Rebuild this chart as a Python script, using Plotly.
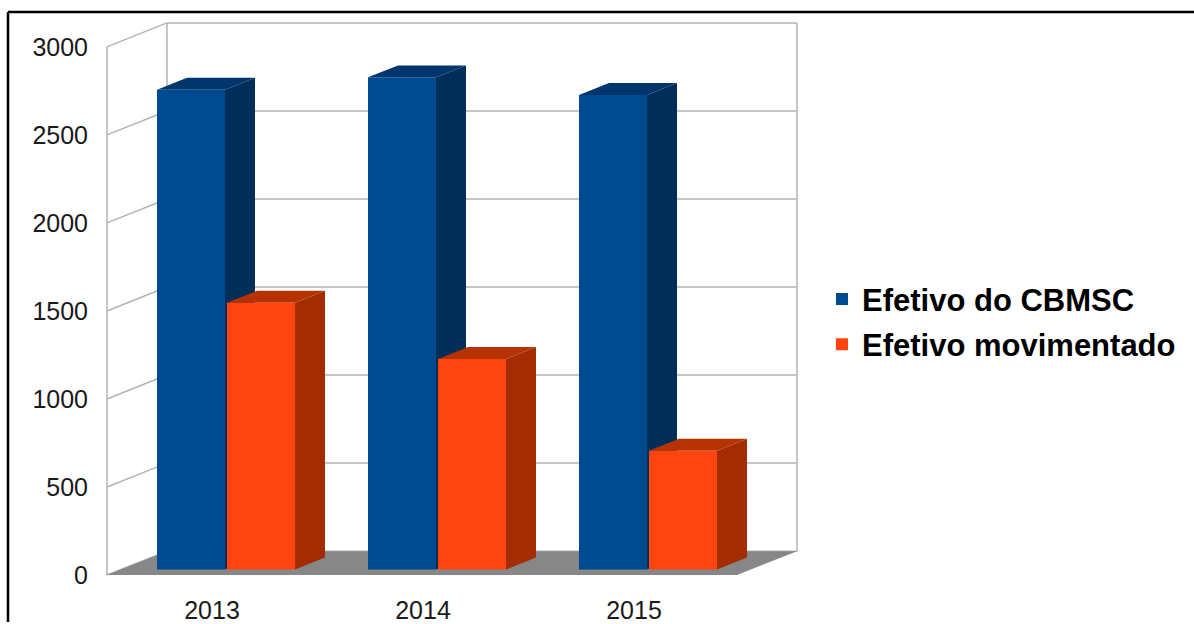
import plotly.graph_objects as go

# ---------------- data ----------------
categories = ["2013", "2014", "2015"]
efetivo_cbmsc = [2725, 2795, 2695]
efetivo_movimentado = [1515, 1195, 675]
series_names = ["Efetivo do CBMSC", "Efetivo movimentado"]
y_tick_values = [0, 500, 1000, 1500, 2000, 2500, 3000]
y_tick_labels = ["0", "500", "1000", "1500", "2000", "2500", "3000"]

# ---------------- styling / geometry (pixels) ----------------
W, H = 1194, 624
ML, MR, MT, MB = 100, 0, 0, 29
PLOT_H = H - MT - MB

CAT0_PX, CAT_STEP_PX = 212, 211       # x pixel of first category, spacing
ZERO_PY, TOP_PY = 577, 47             # y pixel of 0 and of the top tick (front plane)
YMAX = y_tick_values[-1]
S = (ZERO_PY - TOP_PY) / YMAX         # px per value unit


def ux(px):
    return px / CAT_STEP_PX


def uy(px):
    return px / S


x_lo = (ML - CAT0_PX) / CAT_STEP_PX
x_hi = (W - MR - CAT0_PX) / CAT_STEP_PX
y_lo = -(MT + PLOT_H - ZERO_PY) / S
y_hi = (ZERO_PY - MT) / S

# wall / floor box
WALL_DX, WALL_DY = ux(60), uy(24)
FL = ux(107 - CAT0_PX)
BL = FL + WALL_DX
BR = ux(797 - CAT0_PX)
FR = BR - WALL_DX

# bars
BAR_W = ux(68)
OFFSETS = [ux(-55), ux(15)]
BASE = uy(5.6)
BAR_DX, BAR_DY = ux(30), uy(12)

FRONT = ["#004a8f", "#ff440f"]
SIDE = ["#002e5a", "#a32c02"]
TOP = ["#00366b", "#b53302"]
GRID = "#b3b3b3"
FLOOR = "#878787"
FONT = "Liberation Sans, Arial, sans-serif"

shapes = []


def line(x0, y0, x1, y1):
    shapes.append(dict(type="line", xref="x", yref="y", x0=x0, y0=y0, x1=x1, y1=y1,
                       line=dict(color=GRID, width=1.5), layer="below"))


for lv in y_tick_values:
    line(BL, lv + WALL_DY, BR, lv + WALL_DY)      # back wall grid
    line(FL, lv, BL, lv + WALL_DY)                # side wall grid
line(FL, 0, FL, YMAX)
line(BL, WALL_DY, BL, YMAX + WALL_DY)
line(BR, WALL_DY, BR, YMAX + WALL_DY)


def poly(pts, color):
    d = "M " + " L ".join(f"{x},{y}" for x, y in pts) + " Z"
    shapes.append(dict(type="path", xref="x", yref="y", path=d, fillcolor=color,
                       line=dict(width=0), layer="below"))


poly([(FL, 0), (FR, 0), (BR, WALL_DY), (BL, WALL_DY)], FLOOR)

all_series = [efetivo_cbmsc, efetivo_movimentado]
for si, vals in enumerate(all_series):
    for ci, v in enumerate(vals):
        xl = ci + OFFSETS[si]
        xr = xl + BAR_W
        b = BASE
        t = BASE + v
        poly([(xr, b), (xr, t), (xr + BAR_DX, t + BAR_DY), (xr + BAR_DX, b + BAR_DY)], SIDE[si])
        poly([(xl, t), (xr, t), (xr + BAR_DX, t + BAR_DY), (xl + BAR_DX, t + BAR_DY)], TOP[si])


# black frame (top and left)
def pxx(px):
    return (px - ML) / (W - ML - MR)


def pyy(py):
    return (MT + PLOT_H - py) / PLOT_H


shapes.append(dict(type="line", xref="paper", yref="paper", x0=pxx(8), y0=pyy(12), x1=pxx(W), y1=pyy(12),
                   line=dict(color="black", width=2.5)))
shapes.append(dict(type="line", xref="paper", yref="paper", x0=pxx(8), y0=pyy(12), x1=pxx(8), y1=pyy(H),
                   line=dict(color="black", width=2.5)))

fig = go.Figure()
for si, vals in enumerate(all_series):
    fig.add_trace(go.Bar(
        x=list(range(len(categories))), y=vals, base=[BASE] * len(vals),
        width=BAR_W, offset=OFFSETS[si], name=series_names[si],
        marker=dict(color=FRONT[si], line=dict(width=0)),
        legendgroup=f"g{si}",
    ))

fig.update_layout(
    width=W, height=H, margin=dict(l=ML, r=MR, t=MT, b=MB),
    paper_bgcolor="white", plot_bgcolor="white",
    barmode="overlay", shapes=shapes,
    font=dict(family=FONT, color="#1a1a1a", size=25),
    legend=dict(x=pxx(822), y=pyy(323), xanchor="left", yanchor="middle",
                font=dict(family=FONT, size=31, color="black", weight="bold"),
                traceorder="grouped", tracegroupgap=2, bgcolor="rgba(0,0,0,0)"),
    showlegend=True,
)
fig.update_xaxes(range=[x_lo, x_hi], tickmode="array", tickvals=list(range(len(categories))),
                 ticktext=categories, showgrid=False, zeroline=False, showline=False,
                 ticks="", tickfont=dict(size=25, color="#1a1a1a"))
fig.update_yaxes(range=[y_lo, y_hi], tickmode="array", tickvals=y_tick_values,
                 ticktext=y_tick_labels, showgrid=False, zeroline=False, showline=False,
                 ticks="", ticklabelstandoff=11, tickfont=dict(size=25, color="#1a1a1a"))

fig.write_html("out.html", config={"displayModeBar": False},
               post_script="document.body.style.margin='0px';")
